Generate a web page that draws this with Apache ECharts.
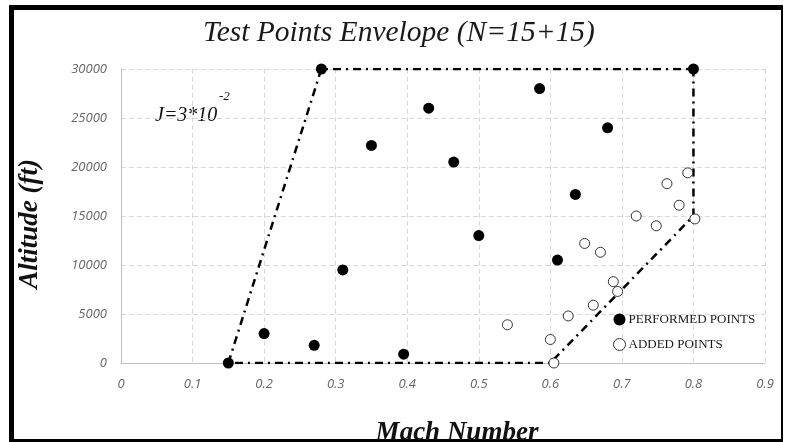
<!DOCTYPE html>
<html>
<head>
<meta charset="utf-8">
<script src="https://cdn.jsdelivr.net/npm/echarts@6/dist/echarts.min.js"></script>
<style>
html,body{margin:0;padding:0;background:#fff;}
#chart{width:785px;height:442px;}
</style>
</head>
<body>
<div id="chart"></div>
<script>
// performed test points (filled)
var performedMach = [0.15, 0.2, 0.27, 0.28, 0.31, 0.35, 0.395, 0.43, 0.465, 0.5, 0.585, 0.61, 0.635, 0.68, 0.8];
var performedAlt = [0, 3000, 1800, 30000, 9500, 22200, 900, 26000, 20500, 13000, 28000, 10500, 17200, 24000, 30000];

// added test points (open)
var addedMach = [0.605, 0.54, 0.6, 0.625, 0.66, 0.694, 0.688, 0.67, 0.648, 0.72, 0.748, 0.78, 0.802, 0.763, 0.792];
var addedAlt = [0, 3900, 2400, 4800, 5900, 7300, 8300, 11300, 12200, 15000, 14000, 16100, 14700, 18300, 19400];

// envelope outline
var envelopeMach = [0.15, 0.28, 0.8, 0.8, 0.6, 0.15];
var envelopeAlt = [0, 30000, 30000, 15000, 0, 0];

function pairs(xs, ys){
    var out = [];
    for(var i=0;i<xs.length;i++){
        out.push([xs[i], ys[i]]);
    }
    return out;
}

var myChart = echarts.init(document.getElementById('chart'));

var serif = '"Liberation Serif", "DejaVu Serif", serif';
var tickFont = {
    color: '#666666',
    fontStyle: 'italic',
    fontFamily: '"Open Sans", "DejaVu Sans", sans-serif',
    fontSize: 13
};

var option = {
    backgroundColor: '#ffffff',
    animation: false,
    title: {
        text: 'Test Points Envelope (N=15+15)',
        left: 198,
        top: 13,
        textStyle: {
            color: '#1a1a1a',
            fontFamily: serif,
            fontStyle: 'italic',
            fontWeight: 'normal',
            fontSize: 29.5
        }
    },
    legend: {
        data: ['PERFORMED POINTS', 'ADDED POINTS'],
        orient: 'vertical',
        left: 608,
        top: 308,
        itemWidth: 12,
        itemHeight: 12,
        itemGap: 12,
        icon: 'circle',
        itemStyle: {borderWidth: 1},
        textStyle: {
            color: '#1a1a1a',
            fontFamily: serif,
            fontSize: 13,
            padding: [0, 0, 0, -2]
        }
    },
    grid: {
        left: 121,
        right: 20,
        top: 69,
        bottom: 79,
        outerBoundsMode: 'none',
        containLabel: false
    },
    xAxis: {
        type: 'value',
        min: 0,
        max: 0.9,
        interval: 0.1,
        name: 'Mach Number',
        nameLocation: 'middle',
        nameGap: 57,
        nameTextStyle: {
            color: '#111',
            fontFamily: serif,
            fontStyle: 'italic',
            fontWeight: 'bold',
            fontSize: 27,
            padding: [0, 0, 0, 28]
        },
        axisLine: {show: true, onZero: false, lineStyle: {color: '#bfbfbf', width: 1}},
        axisTick: {show: false},
        axisLabel: Object.assign({margin: 15}, tickFont),
        splitLine: {show: true, lineStyle: {color: '#d9d9d9', type: [5, 3]}}
    },
    yAxis: {
        type: 'value',
        min: 0,
        max: 30000,
        interval: 5000,
        name: 'Altitude (ft)',
        nameLocation: 'middle',
        nameGap: 77,
        nameTextStyle: {
            color: '#111',
            fontFamily: serif,
            fontStyle: 'italic',
            fontWeight: 'bold',
            fontSize: 27,
            padding: [0, 16, 0, 0]
        },
        axisLine: {show: true, onZero: false, lineStyle: {color: '#bfbfbf', width: 1}},
        axisTick: {show: false},
        axisLabel: Object.assign({margin: 14, formatter: function(v){ return String(v); }}, tickFont),
        splitLine: {show: true, lineStyle: {color: '#d9d9d9', type: [5, 3]}}
    },
    graphic: [
        {type: 'rect', shape: {x: 9, y: 5, width: 5, height: 437}, style: {fill: '#000'}},
        {type: 'rect', shape: {x: 9, y: 5, width: 774, height: 5}, style: {fill: '#000'}},
        {type: 'rect', shape: {x: 781, y: 5, width: 2, height: 437}, style: {fill: '#000'}},
        {type: 'rect', shape: {x: 9, y: 439, width: 774, height: 3}, style: {fill: '#000'}},
        {
            type: 'text',
            left: 155,
            top: 106,
            style: {
                text: 'J=3*10',
                fill: '#111',
                font: 'italic 20px "Liberation Serif", serif'
            }
        },
        {
            type: 'text',
            left: 219,
            top: 90,
            style: {
                text: '-2',
                fill: '#111',
                font: 'italic 13px "Liberation Serif", serif'
            }
        }
    ],
    series: [
        {
            name: 'envelope',
            type: 'line',
            data: pairs(envelopeMach, envelopeAlt),
            symbol: 'none',
            silent: true,
            z: 1,
            lineStyle: {color: '#000', width: 2.5, type: [8, 5, 2, 5]}
        },
        {
            name: 'PERFORMED POINTS',
            type: 'scatter',
            data: pairs(performedMach, performedAlt),
            symbol: 'circle',
            symbolSize: 11,
            z: 3,
            itemStyle: {color: '#000', opacity: 1}
        },
        {
            name: 'ADDED POINTS',
            type: 'scatter',
            data: pairs(addedMach, addedAlt),
            symbol: 'circle',
            symbolSize: 10,
            z: 3,
            itemStyle: {color: '#ffffff', borderColor: '#333', borderWidth: 1, opacity: 1}
        }
    ]
};

myChart.setOption(option);
</script>
</body>
</html>
